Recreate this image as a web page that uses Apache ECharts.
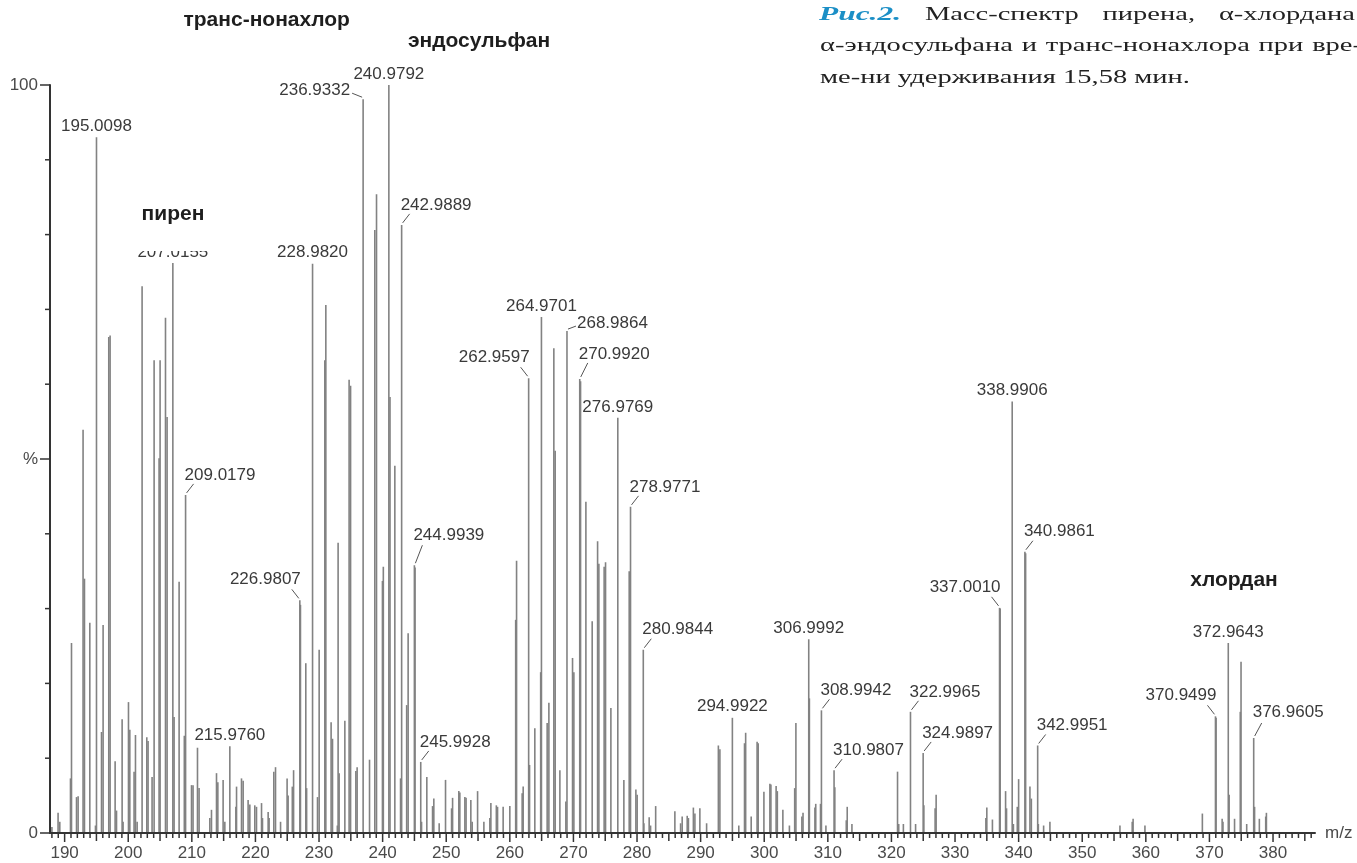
<!DOCTYPE html>
<html><head><meta charset="utf-8">
<script src="https://cdn.jsdelivr.net/npm/echarts@6/dist/echarts.min.js"></script>
<style>html,body{margin:0;padding:0;background:#fff}#chart{width:1357px;height:863px}</style>
</head><body><div id="chart"></div>
<script>
// ---------------- DATA ----------------
// mass spectrum: [m/z, relative intensity %]
const spectrum = [
 [188.0,0.8],[188.97,2.7],[189.24,1.5],[190.92,7.3],[191.08,25.4],[191.87,4.8],[192.12,4.9],
 [192.9,53.9],[193.12,34.0],[193.96,28.1],[194.85,1.0],[195.0098,93.0],[195.8,13.5],[196.05,27.8],
 [196.94,66.3],[197.15,66.5],[197.94,9.6],[198.16,3.0],[199.04,15.2],[199.19,1.5],[200.04,17.5],
 [200.25,13.8],[200.92,8.2],[201.14,13.1],[201.4,1.5],[202.18,73.1],[202.92,12.8],[203.12,12.3],
 [203.75,7.5],[204.07,63.2],[204.85,50.1],[205.01,63.2],[205.86,68.9],[206.11,55.6],[207.0155,76.2],
 [207.21,15.5],[208.0,33.6],[208.82,13.0],[209.0179,45.2],[209.95,6.4],[210.19,6.4],[210.89,11.4],
 [211.14,6.0],[212.83,2.0],[213.09,3.1],[213.88,8.0],[214.09,6.8],[214.92,7.1],[215.19,1.5],
 [215.976,11.6],[216.92,3.5],[217.03,6.2],[217.81,7.3],[218.07,7.0],[218.85,4.4],[219.12,3.8],
 [219.9,3.7],[220.17,3.5],[220.96,4.0],[221.11,2.0],[222.0,2.8],[222.15,2.0],[222.89,8.2],
 [223.16,8.8],[223.95,1.5],[224.98,7.3],[225.14,5.0],[225.8,6.2],[226.0,8.4],[226.9807,31.1],
 [227.08,30.5],[227.92,22.7],[228.05,6.0],[228.982,76.1],[229.76,4.8],[230.02,24.5],[230.91,63.2],
 [231.07,70.6],[231.9,14.8],[232.12,12.6],[232.88,1.0],[233.0,38.8],[233.16,8.0],[234.06,15.0],
 [234.73,60.6],[234.96,59.8],[235.79,8.3],[235.99,8.8],[236.9332,98.1],[237.94,9.8],[238.77,80.6],
 [239.04,85.4],[239.97,33.7],[240.11,35.6],[240.9792,100],[241.16,58.3],[241.92,49.1],[242.82,7.3],
 [242.9889,81.3],[243.78,17.1],[244.01,26.7],[244.9939,35.8],[245.1,35.5],[245.9928,9.5],[246.12,1.5],
 [246.95,7.5],[247.85,3.6],[248.05,4.6],[248.89,1.3],[249.89,7.1],[250.84,3.3],[251.0,4.7],
 [251.98,5.6],[252.14,5.4],[252.93,4.8],[253.12,4.7],[253.87,4.4],[254.08,1.5],[254.93,5.6],
 [255.92,1.5],[256.86,2.0],[257.02,4.0],[257.88,3.7],[258.07,3.5],[258.95,3.5],[260.0,3.6],
 [260.92,28.5],[261.06,36.4],[261.94,5.3],[262.1,6.2],[262.9597,60.8],[263.1,9.1],[263.93,14.0],
 [264.85,21.5],[264.9701,69.0],[265.87,14.7],[266.14,17.4],[266.92,64.8],[267.13,51.1],[267.87,8.4],
 [268.81,4.2],[268.9864,67.1],[269.86,23.4],[270.07,21.5],[270.992,60.7],[271.12,60.4],[271.96,44.3],
 [272.95,28.3],[273.8,39.0],[274.0,36.0],[274.83,35.6],[275.05,36.2],[275.89,16.7],[276.9769,55.5],
 [277.93,7.1],[278.77,35.0],[278.9771,43.6],[279.82,5.8],[280.02,5.1],[280.9844,24.5],[281.08,1.3],
 [281.91,2.1],[282.13,1.0],[282.93,3.6],[285.95,2.9],[286.85,1.3],[287.1,2.2],[287.89,2.3],
 [288.08,2.0],[288.86,3.4],[289.1,2.6],[289.88,3.3],[290.94,1.3],[292.79,11.7],[293.03,11.2],
 [294.9922,15.4],[296.0,1.0],[296.9,12.0],[297.08,13.4],[297.95,2.2],[298.88,12.2],[299.05,12.0],
 [299.95,5.5],[300.89,6.6],[301.05,6.5],[301.87,6.3],[302.06,5.6],[302.93,3.1],[303.96,1.0],
 [304.79,6.0],[304.98,14.7],[305.92,2.2],[306.1,2.7],[306.9992,25.9],[307.1,18.0],[307.97,3.4],
 [308.1,3.9],[308.85,3.9],[308.9942,16.4],[309.7,1.0],[310.9807,8.4],[311.1,6.1],[312.9,1.7],
 [313.05,3.5],[313.79,1.2],[320.96,8.2],[321.15,1.2],[321.88,1.2],[322.9965,16.2],[323.8,1.2],
 [324.9897,10.7],[325.1,3.7],[326.87,3.3],[327.03,5.1],[334.85,2.0],[335.0,3.4],[335.88,1.8],
 [337.001,30.1],[337.1,30.0],[337.95,5.6],[338.1,3.3],[338.9906,57.7],[339.18,1.2],[339.79,3.5],
 [340.0,7.2],[340.9861,37.6],[341.1,37.4],[341.78,6.2],[342.0,4.6],[342.9951,11.7],[343.1,1.2],
 [343.93,1.0],[344.92,1.5],[355.93,1.0],[357.86,1.5],[358.0,1.9],[359.86,1.0],[368.89,2.6],
 [370.9499,15.6],[371.05,15.4],[372.0,1.9],[372.13,1.5],[372.9643,25.4],[373.1,5.1],[373.95,1.9],
 [374.85,16.2],[374.97,22.9],[375.86,1.2],[376.9605,12.7],[377.1,3.5],[377.85,1.9],[378.85,2.2],
 [378.96,2.7]
];
// labelled peaks (text = exact m/z)
const peakLabels = ['195.0098','207.0155','209.0179','215.9760','226.9807','228.9820','236.9332',
 '240.9792','242.9889','244.9939','245.9928','262.9597','264.9701','268.9864','270.9920','276.9769',
 '278.9771','280.9844','294.9922','306.9992','308.9942','310.9807','322.9965','324.9897','337.0010',
 '338.9906','340.9861','342.9951','370.9499','372.9643','376.9605'];
const compoundNames = ['транс-нонахлор','эндосульфан','пирен','хлордан'];
const xTickLabels = [190,200,210,220,230,240,250,260,270,280,290,300,310,320,330,340,350,360,370,380];
const yTickLabels = {0:'0', 50:'%', 100:'100'};
const xAxisName = 'm/z';
const captionLines = [
 ['Рис.2.','Масс-спектр','пирена,','α-хлордана'],
 ['α-эндосульфана','и','транс-нонахлора','при','вре-'],
 ['ме-ни удерживания 15,58 мин.']
];

// ---------------- LAYOUT / STYLE ----------------
const X_MIN = 187.7, X_MAX = 386.6;
const labelFont = '17px "Liberation Sans", Arial, sans-serif';
const labelColor = '#3a3a3a';
const stickColor = '#828282';
const labelLayout = {
 '195.0098':{side:'c'}, '207.0155':{side:'c'}, '209.0179':{side:'r'}, '215.9760':{side:'c'},
 '226.9807':{side:'l'}, '228.9820':{side:'c'}, '236.9332':{side:'l', dx:-13, dy:-9, ex:-11, ey:-6},
 '240.9792':{side:'c'}, '242.9889':{side:'r'}, '244.9939':{side:'r', dy:-30, ey:-20},
 '245.9928':{side:'r'}, '262.9597':{side:'l'}, '264.9701':{side:'c'},
 '268.9864':{side:'r', dx:10, dy:-8, ex:9, ey:-5}, '270.9920':{side:'r', dy:-25, ey:-16},
 '276.9769':{side:'c'}, '278.9771':{side:'r'}, '280.9844':{side:'r'}, '294.9922':{side:'c'},
 '306.9992':{side:'c'}, '308.9942':{side:'r'}, '310.9807':{side:'r'}, '322.9965':{side:'r'},
 '324.9897':{side:'r'}, '337.0010':{side:'l'}, '338.9906':{side:'c'}, '340.9861':{side:'r'},
 '342.9951':{side:'r'}, '370.9499':{side:'l'}, '372.9643':{side:'c'}, '376.9605':{side:'r', dy:-26, ey:-15}
};
const compoundPos = [[266.7,20],[479,41],[173,214],[1234,580]];
// caption: lines 1-2 justified across their spans, line 3 left-aligned with given width
const captionSpans = [[819,1355],[820,1362],[820,1190]];
const captionLineY = [15.6,46,78.5];
const figWidth = 82;

const labelData = peakLabels.map(t => {
  const m = parseFloat(t);
  const pk = spectrum.find(p => Math.abs(p[0] - m) < 1e-6);
  return [m, pk ? pk[1] : 0];
});
const xTickPositions = [];
for (let m = Math.ceil(X_MIN); m <= Math.floor(X_MAX); m++) xTickPositions.push([m, 0]);
const yTickPositions = [];
for (let v = 0; v <= 100; v += 10) yTickPositions.push([X_MIN, v]);

// caption measurement
const mctx = document.createElement('canvas').getContext('2d');
function tw(t, f){ mctx.font = f; return mctx.measureText(t).width; }
const capFont = '18px "Liberation Serif", "Times New Roman", serif';
const capFontBI = 'italic bold 18px "Liberation Serif", "Times New Roman", serif';
const capScale = (captionSpans[2][1] - captionSpans[2][0]) / tw(captionLines[2][0], capFont);
const figScale = figWidth / tw('Рис.2.', capFontBI);

const graphics = [];
captionLines.forEach((words, li) => {
  const widths = words.map((w, wi) => (li === 0 && wi === 0) ? figWidth : tw(w, capFont) * capScale);
  const span = captionSpans[li];
  const gap = words.length > 1 ? (span[1] - span[0] - widths.reduce((a,b)=>a+b,0)) / (words.length - 1) : 0;
  let cx = span[0];
  words.forEach((w, wi) => {
    const isFig = li === 0 && wi === 0;
    graphics.push({type:'text', x: cx, y: captionLineY[li], scaleX: isFig ? figScale : capScale, z: 100,
      style:{text: w, font: isFig ? capFontBI : capFont, fill: isFig ? '#1b8fc6' : '#222',
        align:'left', verticalAlign:'middle', textAlign:'left', textVerticalAlign:'middle'}});
    cx += widths[wi] + gap;
  });
});
// white mask partly covering the 207.0155 label beneath "пирен" (as in the original)
graphics.push({type:'rect', shape:{x:128, y:196, width:100, height:55}, style:{fill:'#fff'}, z:100});
compoundNames.forEach((n, i) => {
  graphics.push({type:'text', x: compoundPos[i][0], y: compoundPos[i][1], z: 101,
    style:{text:n, font:'bold 21px "Liberation Sans", Arial, sans-serif', fill:'#1e1e1e',
      align:'center', verticalAlign:'middle', textAlign:'center', textVerticalAlign:'middle'}});
});

const axisTextStyle = {fontSize:17, fontFamily:'"Liberation Sans", Arial, sans-serif', color:'#4a4a4a'};

const chart = echarts.init(document.getElementById('chart'), null, {renderer:'canvas'});
chart.setOption({
  backgroundColor:'#fff',
  animation:false,
  grid:{left:50, right:42, top:85, bottom:30},
  xAxis:{type:'value', min:X_MIN, max:X_MAX, splitNumber:20,
    name:xAxisName, nameLocation:'end', nameGap:10, nameTextStyle:axisTextStyle,
    axisLine:{show:true, onZero:false, lineStyle:{color:'#333', width:2}},
    axisTick:{show:false}, splitLine:{show:false},
    axisLabel:Object.assign({margin:12, customValues:xTickLabels, showMinLabel:true, showMaxLabel:true,
      formatter: v => xTickLabels.indexOf(Math.round(v*1000)/1000) >= 0 ? String(Math.round(v)) : ''}, axisTextStyle)},
  yAxis:{type:'value', min:0, max:100, interval:10,
    axisLine:{show:true, onZero:false, lineStyle:{color:'#333', width:2}},
    axisTick:{show:false}, splitLine:{show:false},
    axisLabel:Object.assign({margin:12, formatter: v => yTickLabels[v] !== undefined ? yTickLabels[v] : ''}, axisTextStyle)},
  graphic: graphics,
  series:[
    {type:'custom', name:'ticksX', data:xTickPositions, clip:false, silent:true, z:3,
     renderItem:(params, api) => {
       const m = api.value(0); const p = api.coord([m, 0]);
       const len = (m % 10 === 0) ? 9 : (m % 5 === 0 ? 8 : 5);
       return {type:'line', shape:{x1:p[0], y1:p[1], x2:p[0], y2:p[1] + len}, style:{stroke:'#333', lineWidth:1.5}};
     }},
    {type:'custom', name:'ticksY', data:yTickPositions, clip:false, silent:true, z:3,
     renderItem:(params, api) => {
       const v = api.value(1); const p = api.coord([X_MIN, v]);
       const len = (v === 0 || v === 100 || v === 50) ? 10 : 5;
       return {type:'line', shape:{x1:p[0] - len, y1:p[1], x2:p[0], y2:p[1]}, style:{stroke:'#333', lineWidth:1.5}};
     }},
    {type:'custom', name:'spectrum', data:spectrum, clip:false, silent:true, z:2,
     renderItem:(params, api) => {
       const m = api.value(0), v = api.value(1);
       const p0 = api.coord([m, 0]), p1 = api.coord([m, v]);
       return {type:'line', shape:{x1:p0[0], y1:p0[1] - 1, x2:p1[0], y2:p1[1]}, style:{stroke:stickColor, lineWidth:1.6}};
     }},
    {type:'custom', name:'labels', data:labelData, clip:false, silent:true, z:4,
     renderItem:(params, api) => {
       const t = peakLabels[params.dataIndex];
       const L = labelLayout[t] || {side:'c'};
       const p = api.coord([api.value(0), api.value(1)]);
       const x = p[0], top = p[1];
       const children = [];
       const ts = {text:t, font:labelFont, fill:labelColor, verticalAlign:'middle', textVerticalAlign:'middle'};
       if (L.side === 'c') {
         children.push({type:'text', x:x, y:top + (L.dy || -11), style:Object.assign({align:'center', textAlign:'center'}, ts)});
       } else if (L.side === 'r') {
         const dx = L.dx !== undefined ? L.dx : -1, dy = L.dy || -20;
         children.push({type:'text', x:x + dx, y:top + dy, style:Object.assign({align:'left', textAlign:'left'}, ts)});
         children.push({type:'line', shape:{x1:x + 1, y1:top - 2, x2:x + (L.ex || 8), y2:top + (L.ey || -11)}, style:{stroke:'#555', lineWidth:1}});
       } else {
         const dx = L.dx !== undefined ? L.dx : 1, dy = L.dy || -21;
         children.push({type:'text', x:x + dx, y:top + dy, style:Object.assign({align:'right', textAlign:'right'}, ts)});
         children.push({type:'line', shape:{x1:x - 1, y1:top - 2, x2:x + (L.ex || -8), y2:top + (L.ey || -11)}, style:{stroke:'#555', lineWidth:1}});
       }
       return {type:'group', children:children};
     }}
  ]
});
</script>
</body></html>
